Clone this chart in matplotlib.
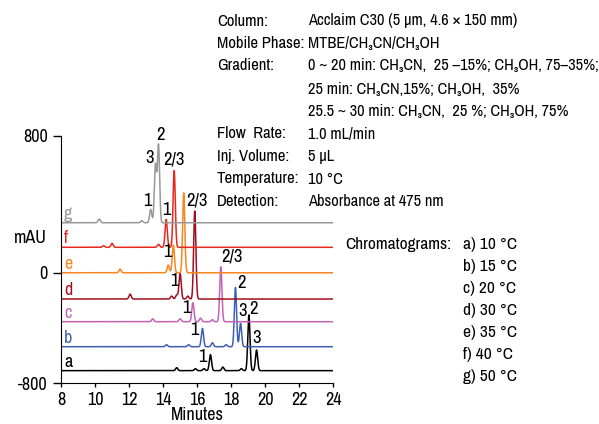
import numpy as np
import matplotlib.pyplot as plt

plt.rcParams['font.family'] = ['Archivo Narrow', 'DejaVu Sans']

# chromatograms a..g: peak retention times (min), heights (mAU) and baseline offsets (mAU)
trace_names = ['a', 'b', 'c', 'd', 'e', 'f', 'g']
trace_colors = ['#000000', '#3f5fb5', '#c462b4', '#a0101e', '#f7861f', '#e8281e', '#999999']
offsets = [-720, -565, -403, -256, -86, 79, 238]

rt_a = [14.8, 15.9, 16.4, 16.78, 17.51, 18.6, 19.04, 19.49]
h_a = [19, 13, 13, 104, 23, 13, 361, 134]
rt_b = [14.2, 15.5, 16.31, 16.9, 17.7, 18.25, 18.55]
h_b = [13, 13, 119, 26, 13, 384, 151]
rt_c = [13.39, 15.0, 15.75, 16.2, 16.9, 17.39]
h_c = [19, 19, 123, 23, 13, 356]
rt_d = [12.06, 14.5, 14.8, 15.0, 15.45, 15.86]
h_d = [32, 19, 26, 166, 19, 570]
rt_e = [11.47, 14.3, 14.6, 15.21]
h_e = [24, 50, 179, 518]
rt_f = [10.5, 11.0, 13.73, 14.18, 14.65]
h_f = [10, 26, 19, 181, 497]
rt_g = [10.24, 12.75, 13.27, 13.55, 13.73]
h_g = [24, 13, 87, 374, 503]

peak_rts = [rt_a, rt_b, rt_c, rt_d, rt_e, rt_f, rt_g]
peak_hs = [h_a, h_b, h_c, h_d, h_e, h_f, h_g]

# peak labels: (trace, retention time, text)
peak_labels = [
    ('a', 16.78, '1'), ('a', 19.04, '2'), ('a', 19.49, '3'),
    ('b', 16.31, '1'), ('b', 18.25, '2'), ('b', 18.55, '3'),
    ('c', 15.75, '1'), ('c', 17.39, '2/3'),
    ('d', 15.0, '1'), ('d', 15.86, '2/3'),
    ('e', 14.6, '1'),
    ('f', 14.18, '1'), ('f', 14.65, '2/3'),
    ('g', 13.27, '1'), ('g', 13.55, '3'), ('g', 13.73, '2'),
]
# label offsets from peak top, in pixels
label_shift = [(-8, -2), (5, 6), (0, 12),
               (-8, -2), (6, 4), (2, 12),
               (-7, -5), (11, 10),
               (-6, -8), (2, 11),
               (-6, -7),
               (0, 9), (0, 11),
               (-3, 8), (-6, 7), (2, 10)]

cond_keys = ['Column:', 'Mobile Phase:', 'Gradient:', '', '', 'Flow  Rate:',
             'Inj. Volume:', 'Temperature:', 'Detection:']
cond_vals = ['Acclaim C30 (5 µm, 4.6 × 150 mm)',
             'MTBE/CH₃CN/CH₃OH',
             '0 ~ 20 min: CH₃CN,  25 –15%; CH₃OH, 75–35%;',
             '25 min: CH₃CN,15%; CH₃OH,  35%',
             '25.5 ~ 30 min: CH₃CN,  25 %; CH₃OH, 75%',
             '1.0 mL/min', '5 µL', '10 °C', 'Absorbance at 475 nm']
chrom_temps = ['a) 10 °C', 'b) 15 °C', 'c) 20 °C', 'd) 30 °C', 'e) 35 °C', 'f) 40 °C', 'g) 50 °C']

fig = plt.figure(figsize=(5.99, 4.24), dpi=100)
ax = fig.add_axes([61 / 599, 1 - 383 / 424, 272.3 / 599, 247 / 424])

t = np.linspace(8, 24, 3000)
sigma = 0.065
for name, col, off, rts, hs in zip(trace_names, trace_colors, offsets, peak_rts, peak_hs):
    y = np.full_like(t, off, dtype=float)
    for rt, h in zip(rts, hs):
        y += h * np.exp(-0.5 * ((t - rt) / sigma) ** 2)
    ax.plot(t, y, color=col, lw=1.1)
    ax.annotate(name, (8.18, off), xytext=(0, 4), textcoords='offset pixels',
                color=col, fontsize=13, ha='left', va='baseline')

for (name, rt, txt), (dx, dy) in zip(peak_labels, label_shift):
    i = trace_names.index(name)
    h = peak_hs[i][peak_rts[i].index(rt)]
    ax.annotate(txt, (rt, offsets[i] + h), xytext=(dx, dy), textcoords='offset pixels',
                fontsize=13.5, ha='center', va='center')

ax.set_xlim(8, 24)
ax.set_ylim(-800, 800)
ax.set_xticks(np.arange(8, 25, 2))
ax.set_yticks([-800, -86, 800])
ax.set_yticklabels(['-800', '0', '800'])
ax.tick_params(axis='both', labelsize=13, width=1)
ax.tick_params(axis='y', length=6)
ax.tick_params(axis='x', length=3)
ax.spines['top'].set_visible(False)
ax.spines['right'].set_visible(False)
ax.set_xlabel('Minutes', fontsize=13, labelpad=-1)
fig.text(47 / 599, 1 - 238 / 424, 'mAU', fontsize=13, ha='right', va='center')

line_y = [21, 43.6, 66, 89, 111.5, 134, 157, 179, 202]
for k, v, yy in zip(cond_keys, cond_vals, line_y):
    fig.text(217 / 599, 1 - yy / 424, k, fontsize=12, ha='left', va='center')
    fig.text(308 / 599, 1 - yy / 424, v, fontsize=11.8, ha='left', va='center')

fig.text(345 / 599, 1 - 244 / 424, 'Chromatograms:', fontsize=12.5, ha='left', va='center')
for j, s in enumerate(chrom_temps):
    fig.text(463 / 599, 1 - (244 + j * 22) / 424, s, fontsize=12.5, ha='left', va='center')

fig.savefig('out.png', dpi=100)
